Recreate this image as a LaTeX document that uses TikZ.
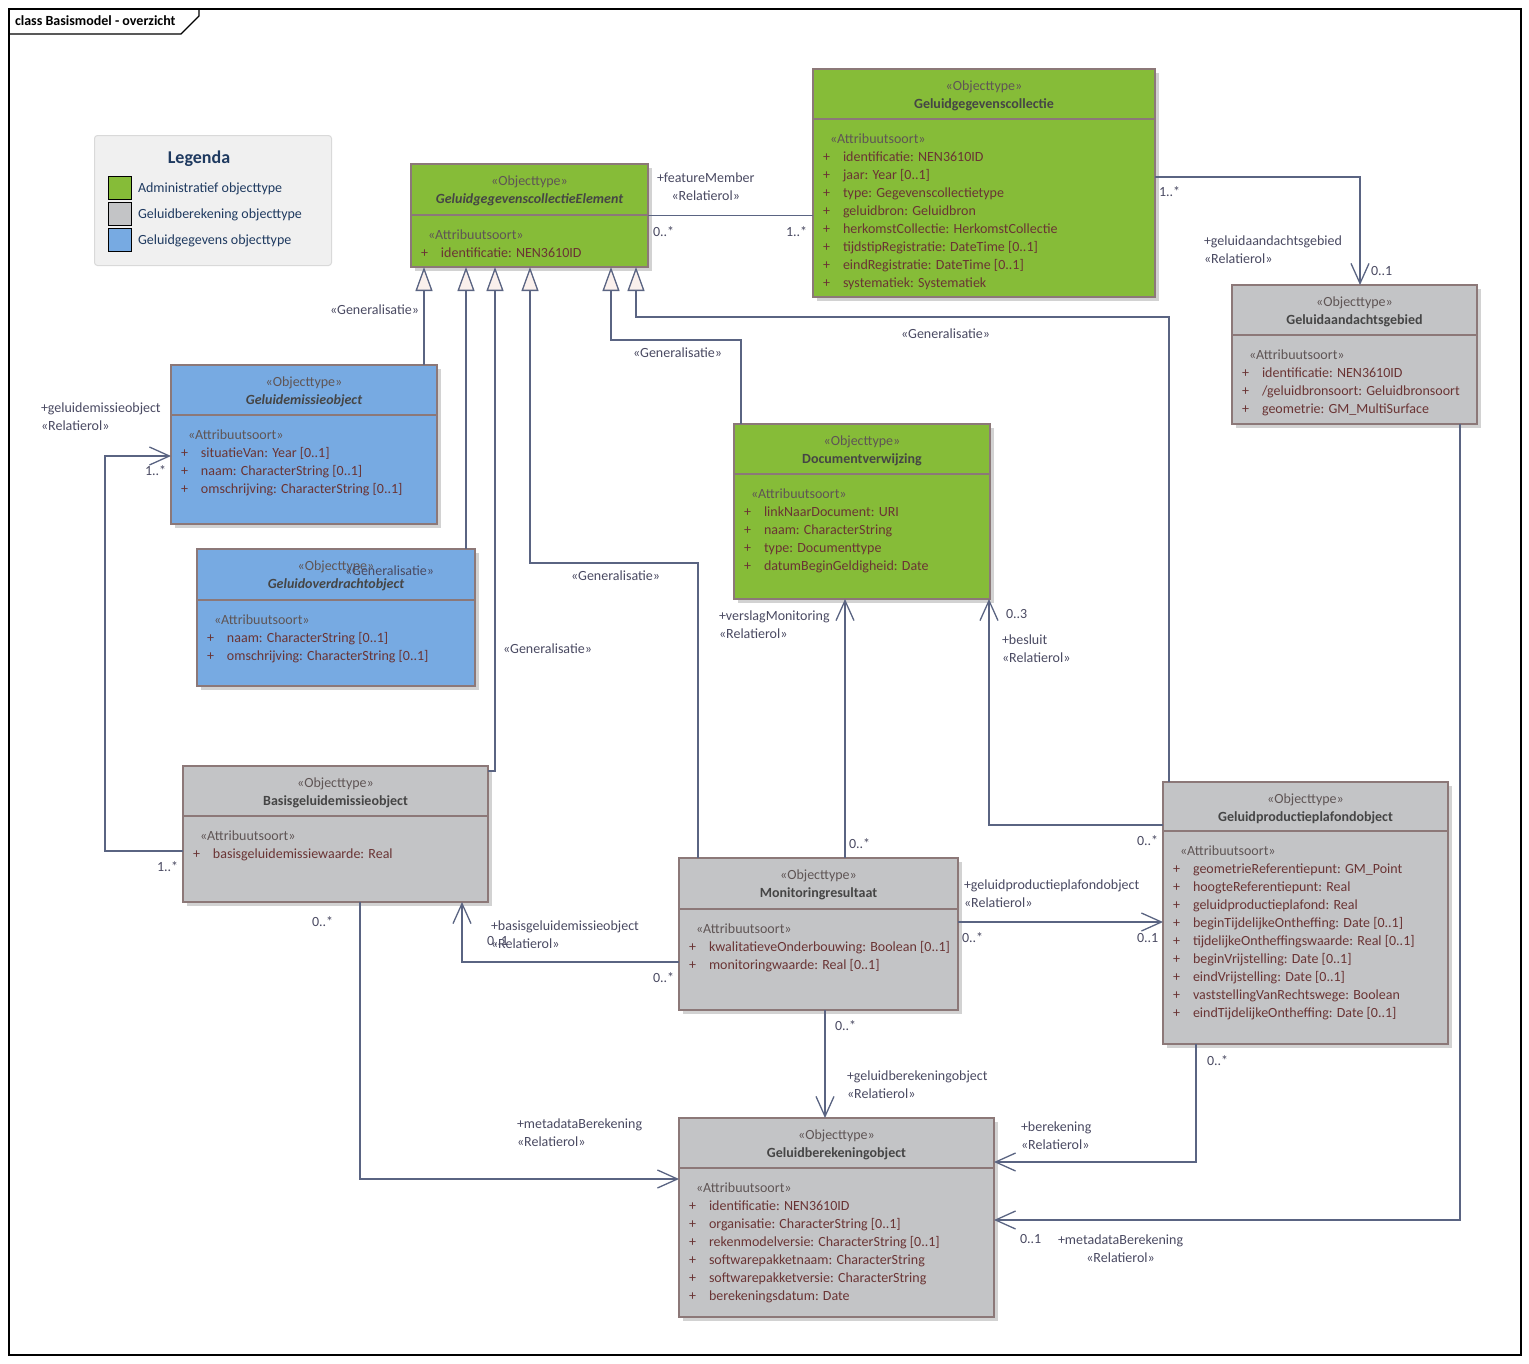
\documentclass[tikz,border=0pt]{standalone}
\usepackage{fontspec}
\setmainfont{Carlito}
\usetikzlibrary{arrows.meta,shadows}
\definecolor{admc}{HTML}{86BC38}
\definecolor{calcc}{HTML}{C3C4C6}
\definecolor{datac}{HTML}{77AAE2}
\definecolor{boxb}{HTML}{8C7878}
\definecolor{shadc}{HTML}{D2D2D2}
\definecolor{linec}{HTML}{5A6482}
\definecolor{trifill}{HTML}{FAF0EC}
\definecolor{stc}{HTML}{5F5555}
\definecolor{namec}{HTML}{454545}
\definecolor{attrc}{HTML}{6A3434}
\definecolor{lblc}{HTML}{4A4A62}
\definecolor{legfill}{HTML}{F0F0F0}
\definecolor{legdraw}{HTML}{D9D9D9}
\definecolor{legtext}{HTML}{1F3A60}
\newcommand\attrline[1]{\makebox[20pt][l]{+}#1}
% #1 name #2 x1 #3 y1 #4 x2 #5 y2 #6 ydiv #7 style #8 class name #9 attributes
\newcommand\umlclass[9]{%
  \node[umlbox,#7,minimum width={(#4-#2)*1pt},minimum height={(#5-#3)*1pt},anchor=north west] (#1) at (#2,#3) {};
  \draw[divl,#7,fill=none] (#2,#6) -- (#4,#6);
  \node[hdrtext,anchor=base] (#1-h) at ({(#2+#4)/2},{#3+21.5}) {\begin{tabular}[t]{@{}c@{}}\textcolor{stc}{«Objecttype»}\\\textcolor{namec}{\bfseries #8}\end{tabular}};
  \node[attrtext,anchor=base west] (#1-a) at ({#2+10},{#6+24}) {\begin{tabular}[t]{@{}l@{}}\hspace*{7pt}\textcolor{stc}{«Attribuutsoort»}\\#9\end{tabular}};
}
\begin{document}
\begin{tikzpicture}[x=1pt,y=-1pt,
  umlbox/.style={rectangle, draw=boxb, inner sep=0pt, outer sep=0pt, general shadow={fill=shadc, shadow xshift=4pt, shadow yshift=-4pt}},
  thickb/.style={line width=2.6pt},
  thinb/.style={line width=1.1pt},
  fadm/.style={fill=admc},
  fcalc/.style={fill=calcc},
  fdata/.style={fill=datac},
  divl/.style={draw=boxb},
  txt/.style={inner sep=0pt, outer sep=0pt, font=\fontsize{14}{18}\selectfont},
  hdrtext/.style={txt},
  attrtext/.style={txt, text=attrc},
  lbl/.style={txt, text=lblc, anchor=base west, yshift=-1pt},
  legbox/.style={rectangle, rounded corners=3pt, fill=legfill, draw=legdraw, line width=1pt, anchor=north west},
  swatch/.style={rectangle, draw=black, line width=1.3pt, minimum width=23pt, minimum height=23pt, anchor=north west, inner sep=0pt},
  legt/.style={txt, text=legtext, anchor=base west},
  assoc/.style={draw=linec, line width=1.3pt},
  nav/.style={assoc, -{Straight Barb[length=20pt,width=18pt]}},
  gen/.style={assoc, -{Triangle[length=24pt,width=17pt,fill=trifill]}},
  frame/.style={draw=black, line width=1.1pt}
]
\useasboundingbox (0,0) rectangle (1529,1363);
\fill[white] (0,0) rectangle (1529,1363);
% frame
\draw[frame] (9,9) rectangle (1521,1355);
\draw[frame] (9,34) -- (181,34) -- (199,16) -- (199,9);
\node[txt, anchor=base west, font=\fontsize{14}{18}\selectfont\bfseries] (title) at (15,25) {class Basismodel - overzicht};

% legend
\node[legbox, minimum width=237pt, minimum height=130pt] (leg) at (94,135) {};
\node[txt, text=legtext, font=\fontsize{18}{22}\selectfont\bfseries, anchor=base] (legtitle) at (199,163) {Legenda};
\node[swatch, fill=admc] (sw1) at (108,176) {};
\node[swatch, fill=calcc] (sw2) at (108,202) {};
\node[swatch, fill=datac] (sw3) at (108,228) {};
\node[legt] (lt1) at (138,192) {Administratief objecttype};
\node[legt] (lt2) at (138,218) {Geluidberekening objecttype};
\node[legt] (lt3) at (138,244) {Geluidgegevens objecttype};

% classes
\umlclass{ggce}{411}{164}{648}{267}{215}{fadm,thickb}{\itshape GeluidgegevenscollectieElement}{\attrline{identificatie: NEN3610ID}}
\umlclass{ggc}{813}{69}{1155}{297}{119}{fadm,thinb}{Geluidgegevenscollectie}{\attrline{identificatie: NEN3610ID}\\\attrline{jaar: Year [0..1]}\\\attrline{type: Gegevenscollectietype}\\\attrline{geluidbron: Geluidbron}\\\attrline{herkomstCollectie: HerkomstCollectie}\\\attrline{tijdstipRegistratie: DateTime [0..1]}\\\attrline{eindRegistratie: DateTime [0..1]}\\\attrline{systematiek: Systematiek}}
\umlclass{gag}{1232}{285}{1477}{424}{335}{fcalc,thinb}{Geluidaandachtsgebied}{\attrline{identificatie: NEN3610ID}\\\attrline{/geluidbronsoort: Geluidbronsoort}\\\attrline{geometrie: GM\_MultiSurface}}
\umlclass{geo}{171}{365}{437}{524}{415}{fdata,thickb}{\itshape Geluidemissieobject}{\attrline{situatieVan: Year [0..1]}\\\attrline{naam: CharacterString [0..1]}\\\attrline{omschrijving: CharacterString [0..1]}}
\umlclass{gov}{197}{549}{475}{686}{600}{fdata,thickb}{\itshape Geluidoverdrachtobject}{\attrline{naam: CharacterString [0..1]}\\\attrline{omschrijving: CharacterString [0..1]}}
\umlclass{dv}{734}{424}{990}{599}{474}{fadm,thickb}{Documentverwijzing}{\attrline{linkNaarDocument: URI}\\\attrline{naam: CharacterString}\\\attrline{type: Documenttype}\\\attrline{datumBeginGeldigheid: Date}}
\umlclass{bgeo}{183}{766}{488}{902}{816}{fcalc,thinb}{Basisgeluidemissieobject}{\attrline{basisgeluidemissiewaarde: Real}}
\umlclass{mon}{679}{858}{958}{1010}{909}{fcalc,thinb}{Monitoringresultaat}{\attrline{kwalitatieveOnderbouwing: Boolean [0..1]}\\\attrline{monitoringwaarde: Real [0..1]}}
\umlclass{gpp}{1163}{782}{1448}{1044}{831}{fcalc,thickb}{Geluidproductieplafondobject}{\attrline{geometrieReferentiepunt: GM\_Point}\\\attrline{hoogteReferentiepunt: Real}\\\attrline{geluidproductieplafond: Real}\\\attrline{beginTijdelijkeOntheffing: Date [0..1]}\\\attrline{tijdelijkeOntheffingswaarde: Real [0..1]}\\\attrline{beginVrijstelling: Date [0..1]}\\\attrline{eindVrijstelling: Date [0..1]}\\\attrline{vaststellingVanRechtswege: Boolean}\\\attrline{eindTijdelijkeOntheffing: Date [0..1]}}
\umlclass{gbo}{679}{1118}{994}{1317}{1168}{fcalc,thinb}{Geluidberekeningobject}{\attrline{identificatie: NEN3610ID}\\\attrline{organisatie: CharacterString [0..1]}\\\attrline{rekenmodelversie: CharacterString [0..1]}\\\attrline{softwarepakketnaam: CharacterString}\\\attrline{softwarepakketversie: CharacterString}\\\attrline{berekeningsdatum: Date}}

% generalisations
\draw[gen] ([xshift=253pt]geo.north west) -- ([xshift=13pt]ggce.south west);
\draw[gen] ([xshift=269pt]gov.north west) -- ([xshift=55pt]ggce.south west);
\draw[gen] ([yshift=-5pt]bgeo.north east) -| ([xshift=84pt]ggce.south west);
\draw[gen] ([xshift=19pt]mon.north west) -- ++(0,-295) -| ([xshift=119pt]ggce.south west);
\draw[gen] ([xshift=7pt]dv.north west) -- ++(0,-84) -| ([xshift=200pt]ggce.south west);
\draw[gen] ([xshift=6pt]gpp.north west) -- ++(0,-465) -| ([xshift=225pt]ggce.south west);

% associations
\draw[assoc] (ggce.east) -- (ggc.west |- ggce.east);
\draw[nav] ([yshift=-108pt]ggc.north east) -| ([xshift=128pt]gag.north west);
\draw[nav] ([yshift=-85pt]bgeo.north west) -- ++(-78,0) |- ([yshift=-91pt]geo.north west);
\draw[nav] ([yshift=-104pt]mon.north west) -| ([xshift=279pt]bgeo.south west);
\draw[nav] ([xshift=166pt]mon.north west) -- ([xshift=111pt]dv.south west);
\draw[nav] ([yshift=-43pt]gpp.north west) -| ([xshift=255pt]dv.south west);
\draw[nav] ([yshift=-64pt]mon.north east) -- ([yshift=-140pt]gpp.north west);
\draw[nav] ([xshift=146pt]mon.south west) -- ([xshift=146pt]gbo.north west);
\draw[nav] ([xshift=177pt]bgeo.south west) |- ([yshift=-61pt]gbo.north west);
\draw[nav] ([xshift=33pt]gpp.south west) |- ([yshift=-44pt]gbo.north east);
\draw[nav] ([xshift=228pt]gag.south west) |- ([yshift=-102pt]gbo.north east);

% generalisation labels
\node[lbl] (g1) at (330,313.5) {«Generalisatie»};
\node[lbl] (g2) at (345,574.5) {«Generalisatie»};
\node[lbl] (g3) at (503,652.5) {«Generalisatie»};
\node[lbl] (g4) at (571,579.5) {«Generalisatie»};
\node[lbl] (g5) at (633,356.5) {«Generalisatie»};
\node[lbl] (g6) at (901,337.5) {«Generalisatie»};

% association labels
\node[lbl] (r1) at (657,181.5) {\begin{tabular}[t]{@{}c@{}}+featureMember\\«Relatierol»\end{tabular}};
\node[lbl] (m1) at (653,235.5) {0..*};
\node[lbl] (m2) at (786,235.5) {1..*};
\node[lbl] (m3) at (1159,195.5) {1..*};
\node[lbl] (r2) at (1204,244.5) {\begin{tabular}[t]{@{}l@{}}+geluidaandachtsgebied\\«Relatierol»\end{tabular}};
\node[lbl] (m4) at (1371,274.5) {0..1};
\node[lbl] (r3) at (41,411.5) {\begin{tabular}[t]{@{}l@{}}+geluidemissieobject\\«Relatierol»\end{tabular}};
\node[lbl] (m5) at (145,474.5) {1..*};
\node[lbl] (m6) at (157,870.5) {1..*};
\node[lbl] (r4) at (719,619.5) {\begin{tabular}[t]{@{}l@{}}+verslagMonitoring\\«Relatierol»\end{tabular}};
\node[lbl] (m7) at (1006,617.5) {0..3};
\node[lbl] (r5) at (1002,643.5) {\begin{tabular}[t]{@{}l@{}}+besluit\\«Relatierol»\end{tabular}};
\node[lbl] (m8) at (849,847.5) {0..*};
\node[lbl] (m9) at (1137,844.5) {0..*};
\node[lbl] (r6) at (964,888.5) {\begin{tabular}[t]{@{}l@{}}+geluidproductieplafondobject\\«Relatierol»\end{tabular}};
\node[lbl] (m10) at (962,941.5) {0..*};
\node[lbl] (m11) at (1137,941.5) {0..1};
\node[lbl] (m12) at (312,925.5) {0..*};
\node[lbl] (m13) at (487,944.5) {0..1};
\node[lbl] (r7) at (491,929.5) {\begin{tabular}[t]{@{}l@{}}+basisgeluidemissieobject\\«Relatierol»\end{tabular}};
\node[lbl] (m14) at (653,981.5) {0..*};
\node[lbl] (m15) at (835,1029.5) {0..*};
\node[lbl] (r8) at (847,1079.5) {\begin{tabular}[t]{@{}l@{}}+geluidberekeningobject\\«Relatierol»\end{tabular}};
\node[lbl] (m16) at (1207,1064.5) {0..*};
\node[lbl] (r9) at (517,1127.5) {\begin{tabular}[t]{@{}l@{}}+metadataBerekening\\«Relatierol»\end{tabular}};
\node[lbl] (r10) at (1021,1130.5) {\begin{tabular}[t]{@{}l@{}}+berekening\\«Relatierol»\end{tabular}};
\node[lbl] (m17) at (1020,1242.5) {0..1};
\node[lbl] (r11) at (1058,1243.5) {\begin{tabular}[t]{@{}c@{}}+metadataBerekening\\«Relatierol»\end{tabular}};
\end{tikzpicture}
\end{document}
